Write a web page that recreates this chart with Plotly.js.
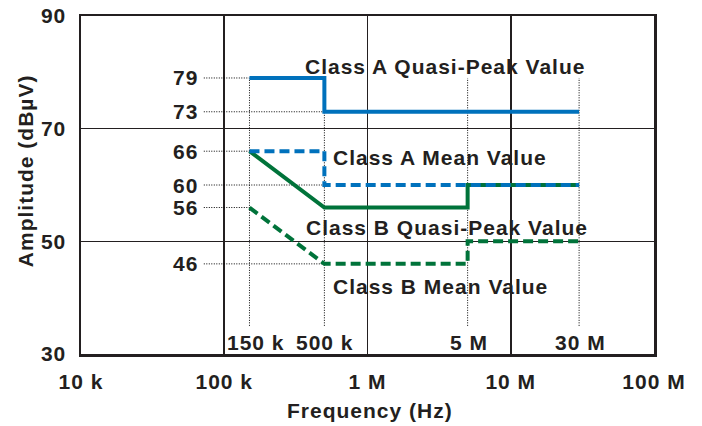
<!DOCTYPE html>
<html>
<head>
<meta charset="utf-8">
<script src="https://cdn.plot.ly/plotly-3.0.1.min.js"></script>
<style>
  html, body { margin: 0; padding: 0; background: #ffffff; }
  #chart { width: 702px; height: 426px; }
  text { letter-spacing: 1px; }
</style>
</head>
<body>
<div id="chart"></div>
<script>
// Conducted emission limits (dBµV) versus frequency (Hz)
const freqTicks = [1e4, 1e5, 1e6, 1e7, 1e8];
const freqTickText = ['10 k', '100 k', '1 M', '10 M', '100 M'];
const ampTicks = [30, 50, 70, 90];
const ampTickText = ['30', '50', '70', '90'];

const classAQpFreq = [150e3, 500e3, 500e3, 30e6];
const classAQpVal = [79, 79, 73, 73];
const classAMeanFreq = [150e3, 500e3, 500e3, 30e6];
const classAMeanVal = [66, 66, 60, 60];
const classBQpFreq = [150e3, 500e3, 5e6, 5e6, 30e6];
const classBQpVal = [66, 56, 56, 60, 60];
const classBMeanFreq = [150e3, 500e3, 5e6, 5e6, 30e6];
const classBMeanVal = [56, 46, 46, 50, 50];

// limit levels marked on the left, with the frequency where each level starts
const levelVals = [79, 73, 66, 60, 56, 46];
const levelFreq = [150e3, 500e3, 150e3, 500e3, 150e3, 500e3];

// corner frequencies marked along the bottom
const cornerFreq = [150e3, 500e3, 5e6, 30e6];
const cornerText = ['150 k', '500 k', '5 M', '30 M'];

const seriesNames = ['Class A Quasi-Peak Value', 'Class A Mean Value',
                     'Class B Quasi-Peak Value', 'Class B Mean Value'];

const INK = '#231f20';
const BLUE = '#0071bc';
const GREEN = '#00733a';
const FONT = 'Liberation Sans, Arial, sans-serif';

const guideStartFreq = 72e3;   // left end of the horizontal guides
const guideLow = 35;           // bottom end of the vertical guides
const guideTop = 79;

// dotted guide lines
const gx = [], gy = [];
levelVals.forEach((v, i) => { gx.push(guideStartFreq, levelFreq[i], null); gy.push(v, v, null); });
cornerFreq.forEach(f => { gx.push(f, f, null); gy.push(guideLow, guideTop, null); });

const traces = [
  { x: gx, y: gy, mode: 'lines', line: { color: '#000', width: 1, dash: '1px,1.5px' },
    hoverinfo: 'skip', showlegend: false, connectgaps: false },
  { x: classAQpFreq, y: classAQpVal, mode: 'lines', name: seriesNames[0],
    line: { color: BLUE, width: 4 } },
  { x: classBQpFreq, y: classBQpVal, mode: 'lines', name: seriesNames[2],
    line: { color: GREEN, width: 4 } },
  { x: classAMeanFreq, y: classAMeanVal, mode: 'lines', name: seriesNames[1],
    line: { color: BLUE, width: 4, dash: '10px,5px' } },
  { x: classBMeanFreq, y: classBMeanVal, mode: 'lines', name: seriesNames[3],
    line: { color: GREEN, width: 4, dash: '10px,5px' } }
];

const annFont = { family: FONT, size: 21, color: INK, weight: 'bold' };
const annotations = [];

// level labels
levelVals.forEach(v => annotations.push({
  xref: 'paper', yref: 'y', x: 0.207, y: v, xanchor: 'right', yanchor: 'middle',
  text: '<b>' + v + '</b>', showarrow: false, font: annFont
}));

// corner frequency labels
cornerFreq.forEach((f, i) => annotations.push({
  xref: 'x', yref: 'paper', x: Math.log10(f), y: 0.0, yanchor: 'bottom', xanchor: 'center',
  xshift: i === 0 ? 7 : 1, yshift: -2,
  text: '<b>' + cornerText[i] + '</b>', showarrow: false, font: annFont
}));

// series names
const namePos = [[5.55, 81.1], [5.743, 64.8], [5.557, 52.4], [5.745, 41.9]];
seriesNames.forEach((n, i) => annotations.push({
  xref: 'x', yref: 'y', x: namePos[i][0], y: namePos[i][1], xanchor: 'left', yanchor: 'middle',
  text: '<b>' + n + '</b>', showarrow: false, font: annFont
}));

// axis titles
annotations.push({
  xref: 'paper', yref: 'paper', x: 0.504, y: -0.166, xanchor: 'center', yanchor: 'middle',
  text: '<b>Frequency (Hz)</b>', showarrow: false, font: annFont
});
annotations.push({
  xref: 'paper', yref: 'paper', x: -0.0977, y: 0.541, xanchor: 'center', yanchor: 'middle',
  textangle: -90, text: '<b>Amplitude (dBµV)</b>', showarrow: false, font: annFont
});

const tickFont = { family: FONT, size: 21, color: INK, weight: 'bold' };

const layout = {
  width: 702, height: 426,
  margin: { l: 81, r: 48, t: 16, b: 72 },
  paper_bgcolor: '#ffffff', plot_bgcolor: '#ffffff',
  showlegend: false,
  font: { family: FONT, color: INK },
  xaxis: {
    type: 'log', range: [4, 8],
    tickvals: freqTicks, ticktext: freqTickText.map(t => '<b>' + t + '</b>'),
    tickfont: tickFont,
    ticks: '', ticklabelstandoff: 7,
    showgrid: true, gridcolor: INK, gridwidth: 1.6,
    showline: true, linecolor: INK, linewidth: 2.5, mirror: true,
    zeroline: false
  },
  yaxis: {
    range: [30, 90],
    tickvals: ampTicks, ticktext: ampTickText.map(t => '<b>' + t + '</b>'),
    tickfont: tickFont,
    ticks: '', ticklabelstandoff: 8,
    showgrid: true, gridcolor: INK, gridwidth: 1.6,
    showline: true, linecolor: INK, linewidth: 2.5, mirror: true,
    zeroline: false
  },
  annotations: annotations
};

Plotly.newPlot('chart', traces, layout, { displayModeBar: false, staticPlot: true });
</script>
</body>
</html>
